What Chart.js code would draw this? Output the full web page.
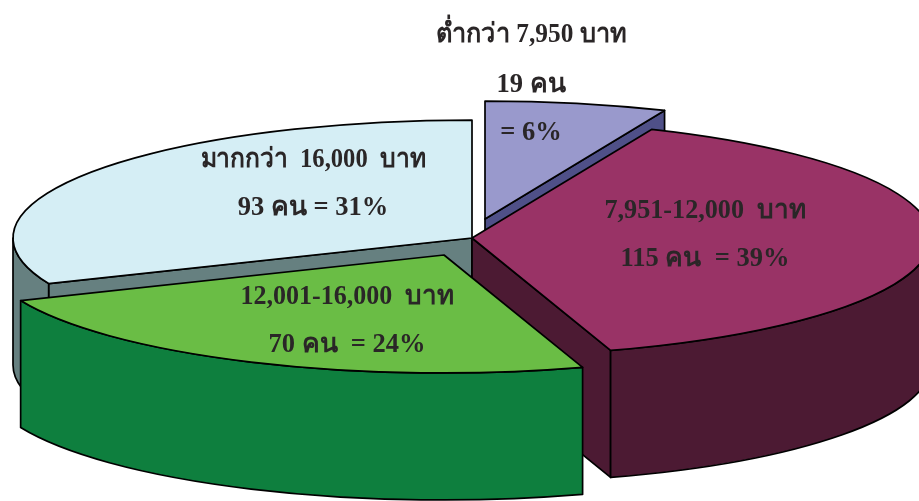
<!DOCTYPE html>
<html lang="th">
<head>
<meta charset="utf-8">
<title>รายได้</title>
<style>
  html, body { margin: 0; padding: 0; background: #ffffff; }
  #wrap { width: 919px; height: 501px; overflow: hidden; }
</style>
<script src="https://cdn.jsdelivr.net/npm/chart.js@4/dist/chart.umd.min.js"></script>
</head>
<body>
<div id="wrap"><canvas id="pie" width="919" height="501"></canvas></div>
<script>
// Income bands and head counts
const incomeBands = ['ต่ำกว่า 7,950 บาท', '7,951-12,000  บาท', '12,001-16,000  บาท', 'มากกว่า  16,000  บาท'];
const headCounts = [19, 115, 70, 93];
const personUnit = 'คน';
const shareSeparators = ['', '  ', '  ', ' '];

// Slice colours: top face and side wall
const topColours = ['#9999cc', '#993366', '#6abd45', '#d5eef5'];
const wallColours = ['#4f5088', '#4c1a33', '#0e7f3e', '#668080'];

// Perspective of the tilted pie
const pieCentre = { x: 472, y: 238 };
const pieRadius = 459;
const tilt = 0.257;
const pieDepth = 127;
const lineColour = '#000000';
const lineWidth = 1.7;

// Screen shift of the pulled-out slices
const sliceShift = [[13, -19], [0, 0], [-28, 17], [0, 0]];
// Back-to-front painting order for the walls
const wallOrder = [3, 0, 1, 2];

// Label block centres and the room given to each band name
const labelAnchors = [[531, 35], [705, 211], [347, 297], [313, 160]];
const bandWidths = [191, 201, 213, 225];
const labelLineGap = 48;
const labelFont = 'bold 26.5px "Liberation Serif", "Noto Sans", serif';
const labelColour = '#2a2627';

function percent(i) {
  const total = headCounts.reduce((a, b) => a + b, 0);
  return Math.round(headCounts[i] / total * 100);
}

// Pie controller that tilts and extrudes its arcs
class ExplodedPieController extends Chart.PieController {
  static id = 'explodedPie';

  draw() {
    const ctx = this.chart.ctx;
    const arcs = this._cachedMeta.data;

    wallOrder.forEach((i) => this.drawWalls(ctx, arcs[i], i));

    arcs.forEach((arc, i) => {
      const c = this.sliceCentre(i);
      ctx.save();
      ctx.translate(c.x, c.y);
      ctx.scale(1, tilt);
      ctx.translate(-arc.x, -arc.y);
      arc.draw(ctx);
      ctx.restore();

      ctx.beginPath();
      ctx.moveTo(c.x, c.y);
      ctx.ellipse(c.x, c.y, arc.outerRadius, arc.outerRadius * tilt, 0, arc.startAngle, arc.endAngle);
      ctx.closePath();
      this.strokeEdge(ctx);
    });
  }

  sliceCentre(i) {
    return { x: pieCentre.x + sliceShift[i][0], y: pieCentre.y + sliceShift[i][1] };
  }

  strokeEdge(ctx) {
    ctx.strokeStyle = lineColour;
    ctx.lineWidth = lineWidth;
    ctx.lineJoin = 'round';
    ctx.stroke();
  }

  rimPoint(c, arc, angle) {
    return {
      x: c.x + Math.cos(angle) * arc.outerRadius,
      y: c.y + Math.sin(angle) * arc.outerRadius * tilt
    };
  }

  drawCutFace(ctx, c, arc, angle, colour) {
    const p = this.rimPoint(c, arc, angle);
    ctx.beginPath();
    ctx.moveTo(c.x, c.y);
    ctx.lineTo(p.x, p.y);
    ctx.lineTo(p.x, p.y + pieDepth);
    ctx.lineTo(c.x, c.y + pieDepth);
    ctx.closePath();
    ctx.fillStyle = colour;
    ctx.fill();
    this.strokeEdge(ctx);
  }

  drawWalls(ctx, arc, i) {
    const c = this.sliceCentre(i);
    const colour = wallColours[i];
    const start = arc.startAngle;
    const end = arc.endAngle;

    // A radial cut shows only when it turns towards the viewer
    if (Math.cos(end) > 1e-6) this.drawCutFace(ctx, c, arc, end, colour);
    if (Math.cos(start) < -1e-6) this.drawCutFace(ctx, c, arc, start, colour);

    // Curved outer wall: the front half of the rim only
    const from = Math.max(start, 0);
    const to = Math.min(end, Math.PI);
    if (to > from) {
      const rx = arc.outerRadius;
      const ry = arc.outerRadius * tilt;
      ctx.beginPath();
      ctx.ellipse(c.x, c.y, rx, ry, 0, from, to);
      ctx.ellipse(c.x, c.y + pieDepth, rx, ry, 0, to, from, true);
      ctx.closePath();
      ctx.fillStyle = colour;
      ctx.fill();
      this.strokeEdge(ctx);
    }
  }
}
Chart.register(ExplodedPieController);

// Writes the band, head count and share on each slice
const sliceLabels = {
  id: 'sliceLabels',
  afterDatasetsDraw(chart) {
    const ctx = chart.ctx;
    ctx.save();
    ctx.font = labelFont;
    ctx.fillStyle = labelColour;
    ctx.textAlign = 'center';
    ctx.textBaseline = 'middle';
    incomeBands.forEach((band, i) => {
      const [x, y] = labelAnchors[i];
      const count = headCounts[i] + ' ' + personUnit;
      const share = '= ' + percent(i) + '%';
      ctx.fillText(band, x, y, bandWidths[i]);
      if (i === 0) {
        ctx.fillText(count, x, y + labelLineGap + 2);
        ctx.fillText(share, x, y + 2 * labelLineGap + 2);
      } else {
        ctx.fillText(count + shareSeparators[i] + share, x, y + labelLineGap);
      }
    });
    ctx.restore();
  }
};

new Chart(document.getElementById('pie'), {
  type: 'explodedPie',
  data: {
    labels: incomeBands,
    datasets: [{
      data: headCounts,
      backgroundColor: topColours,
      borderWidth: 0
    }]
  },
  options: {
    responsive: false,
    animation: false,
    radius: pieRadius,
    rotation: 0,
    events: [],
    plugins: { legend: { display: false }, tooltip: { enabled: false } }
  },
  plugins: [sliceLabels]
});
</script>
</body>
</html>
